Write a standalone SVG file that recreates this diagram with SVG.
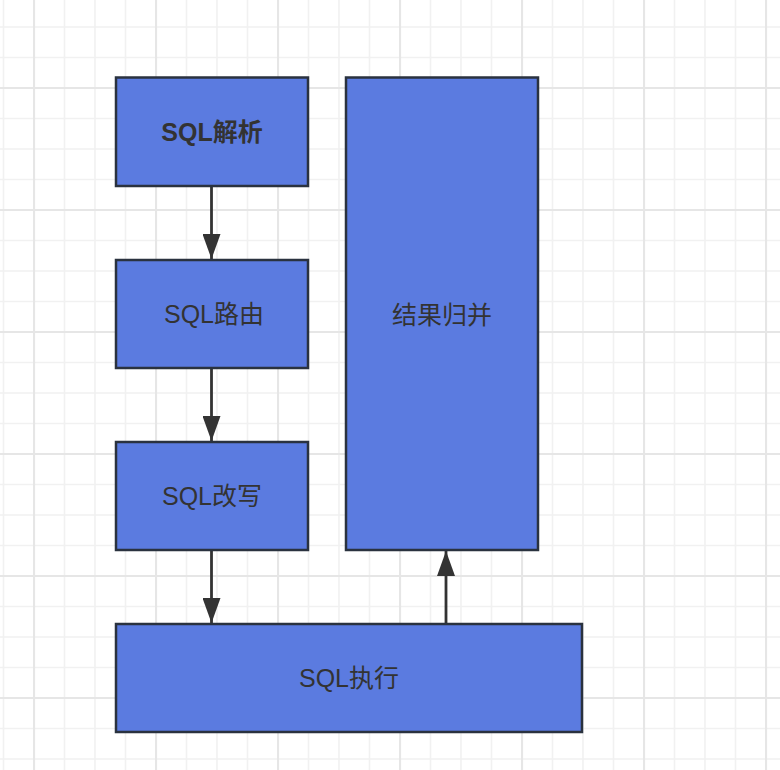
<svg xmlns="http://www.w3.org/2000/svg" width="780" height="770" viewBox="0 0 780 770">
<defs>
<pattern id="grid" patternUnits="userSpaceOnUse" x="33" y="87" width="122" height="122">
<path d="M31.5 0V122M62 0V122M92.5 0V122M0 31.5H122M0 62H122M0 92.5H122" stroke="#f1f1f1" stroke-width="1.6" fill="none"/>
<path d="M1 0V122M0 1H122" stroke="#e6e6e6" stroke-width="2.2" fill="none"/>
</pattern>
<marker id="ah" markerUnits="userSpaceOnUse" markerWidth="26" markerHeight="18" refX="25" refY="9" orient="auto">
<path d="M0 0L25 9L0 18Z" fill="#333333"/>
</marker>
<style>
.box{fill:#5b7be0;stroke:#2a323f;stroke-width:2.5}
.lbl{font-family:"Liberation Sans","Noto Sans CJK SC",sans-serif;font-size:25px;fill:#333333;text-anchor:middle;dominant-baseline:central}
.b{font-weight:bold}
.conn{stroke:#333333;stroke-width:2.8;fill:none;marker-end:url(#ah)}
</style>
</defs>
<rect width="780" height="770" fill="#ffffff"/>
<rect width="780" height="770" fill="url(#grid)"/>
<g id="connectors">
<line class="conn" x1="211.5" y1="187" x2="211.5" y2="259"/>
<line class="conn" x1="211.5" y1="369" x2="211.5" y2="441"/>
<line class="conn" x1="211.5" y1="551" x2="211.5" y2="623"/>
<line class="conn" x1="446" y1="623" x2="446" y2="551"/>
</g>
<g id="node-parse">
<rect class="box" x="116" y="77.5" width="192" height="108.5"/>
<text class="lbl b" x="212" y="132">SQL解析</text>
</g>
<g id="node-route">
<rect class="box" x="116" y="260" width="192" height="108"/>
<text class="lbl" x="214" y="314">SQL路由</text>
</g>
<g id="node-rewrite">
<rect class="box" x="116" y="442" width="192" height="108"/>
<text class="lbl" x="212" y="496">SQL改写</text>
</g>
<g id="node-merge">
<rect class="box" x="346" y="77.5" width="192" height="472.5"/>
<text class="lbl" x="442" y="315">结果归并</text>
</g>
<g id="node-execute">
<rect class="box" x="116" y="624" width="466" height="108"/>
<text class="lbl" x="349" y="678">SQL执行</text>
</g>
</svg>
